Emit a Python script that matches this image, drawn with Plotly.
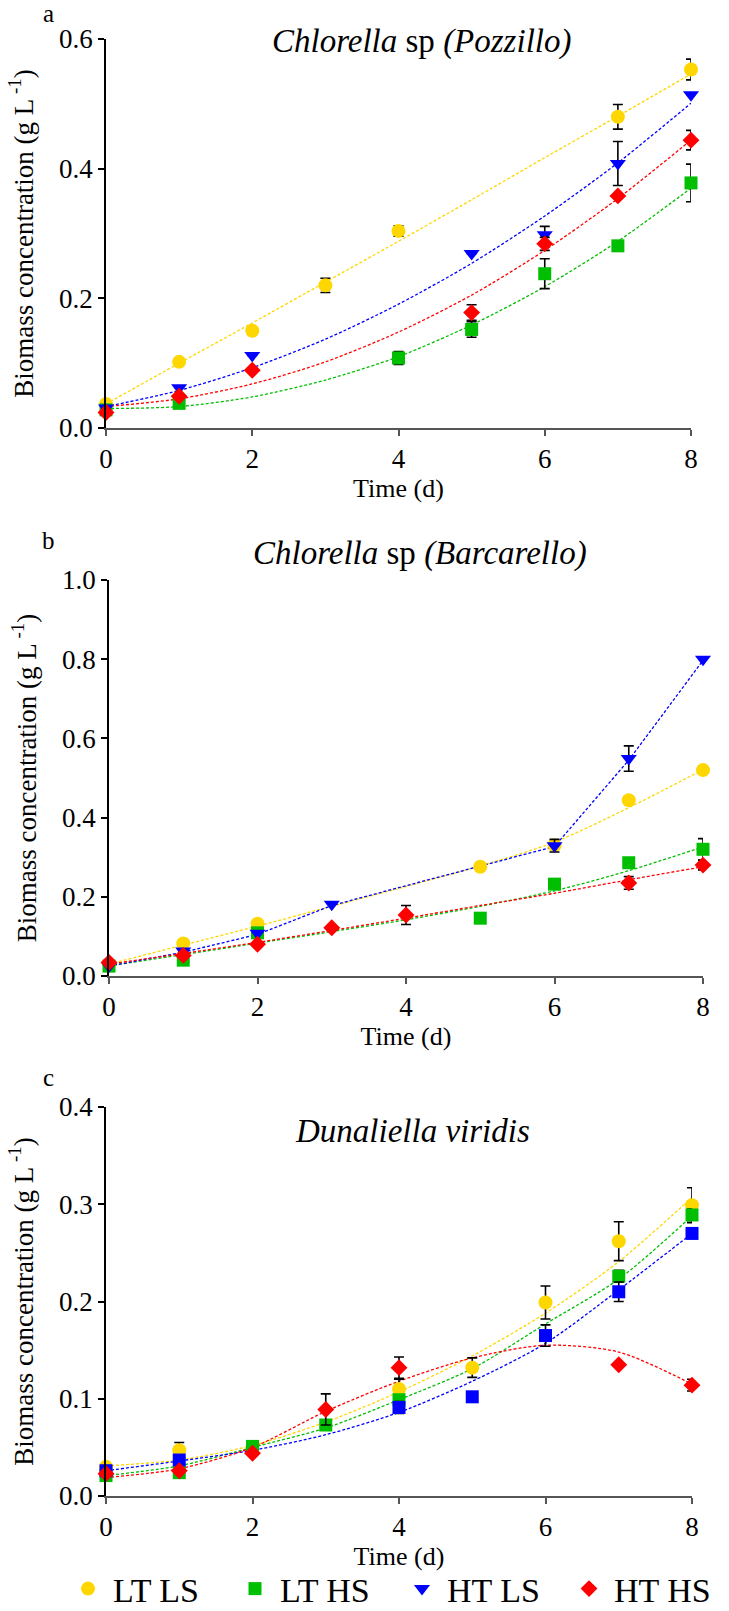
import plotly.graph_objects as go

# ---------------- data ----------------
days = [0, 1, 2, 3, 4, 5, 6, 7, 8]
series_names = ["LT LS", "LT HS", "HT LS", "HT HS"]

# Panel a: Chlorella sp (Pozzillo)
a_ltls = [0.037, 0.102, 0.150, 0.220, 0.304, None, None, 0.480, 0.553]
a_ltls_err = [None, None, None, 0.011, 0.008, None, None, 0.019, 0.016]
a_lths = [0.028, 0.038, None, None, 0.108, 0.152, 0.238, 0.281, 0.378]
a_lths_err = [None, None, None, None, 0.010, 0.012, 0.023, None, 0.029]
a_htls = [0.031, 0.062, 0.112, None, None, 0.269, 0.298, 0.408, 0.514]
a_htls_err = [None, None, None, None, None, None, 0.013, 0.034, None]
a_hths = [0.024, 0.049, 0.089, None, None, 0.178, 0.284, 0.358, 0.444]
a_hths_err = [None, None, None, None, None, 0.012, 0.010, None, 0.015]
a_fit_ltls = [0.037, 0.100, 0.162, 0.225, 0.288, 0.352, 0.417, 0.481, 0.546]
a_fit_lths = [0.030, 0.033, 0.048, 0.074, 0.110, 0.159, 0.218, 0.288, 0.370]
a_fit_htls = [0.033, 0.058, 0.093, 0.137, 0.191, 0.254, 0.327, 0.409, 0.501]
a_fit_hths = [0.033, 0.045, 0.068, 0.102, 0.148, 0.205, 0.274, 0.354, 0.444]

# Panel b: Chlorella sp (Barcarello)
b_ltls = [0.030, 0.082, 0.132, None, None, 0.276, 0.330, 0.444, 0.520]
b_ltls_err = [None] * 9
b_lths = [0.025, 0.040, 0.109, None, None, 0.146, 0.232, 0.286, 0.320]
b_lths_err = [None, None, None, None, None, None, None, None, 0.027]
b_htls = [0.025, 0.063, 0.108, 0.181, None, None, 0.329, 0.549, 0.800]
b_htls_err = [None, None, None, None, None, None, 0.016, 0.032, None]
b_hths = [0.034, 0.052, 0.080, 0.122, 0.154, None, None, 0.235, 0.280]
b_hths_err = [None, None, None, None, 0.024, None, None, 0.016, 0.012]
b_fit_ltls = [0.030, 0.078, 0.126, 0.176, 0.226, 0.278, 0.338, 0.425, 0.521]
b_fit_lths = [0.026, 0.054, 0.083, 0.112, 0.142, 0.176, 0.215, 0.266, 0.326]
b_fit_htls = [0.025, 0.060, 0.105, 0.178, 0.228, 0.277, 0.327, 0.545, 0.797]
b_fit_hths = [0.030, 0.057, 0.085, 0.115, 0.146, 0.178, 0.209, 0.243, 0.276]

# Panel c: Dunaliella viridis
c_ltls = [0.030, 0.047, None, None, 0.110, 0.132, 0.199, 0.262, 0.299]
c_ltls_err = [None, 0.008, None, None, 0.010, 0.010, 0.017, 0.020, 0.018]
c_lths = [0.021, 0.024, 0.051, 0.073, 0.099, None, None, 0.226, 0.289]
c_lths_err = [None, 0.005, None, 0.003, 0.004, None, None, 0.006, 0.006]
c_htls = [0.026, 0.037, None, None, 0.091, 0.102, 0.165, 0.210, 0.270]
c_htls_err = [None, None, None, None, 0.006, None, 0.011, 0.010, None]
c_hths = [0.023, 0.026, 0.044, 0.089, 0.132, None, None, 0.135, 0.114]
c_hths_err = [None, None, None, 0.016, 0.011, None, None, None, 0.006]
c_fit_ltls = [0.031, 0.037, 0.052, 0.076, 0.107, 0.144, 0.188, 0.241, 0.307]
c_fit_lths = [0.021, 0.031, 0.050, 0.070, 0.099, 0.131, 0.177, 0.223, 0.288]
c_fit_htls = [0.026, 0.036, 0.047, 0.063, 0.086, 0.118, 0.157, 0.212, 0.270]
c_fit_hths = [0.019, 0.028, 0.050, 0.087, 0.118, 0.142, 0.155, 0.148, 0.115]

x_ticks = [0, 2, 4, 6, 8]

# ---------------- style ----------------
FONT = "Liberation Serif"
colors = ["#FFD700", "#00BE00", "#0000FF", "#FF0000"]
symbols_default = ["circle", "square", "triangle-down", "diamond"]
W, H = 729, 1611


def px_x(p):
    return p / W


def px_y(p):
    return 1 - p / H


panels = [
    dict(key="a", xa="x", ya="y", xd=[106, 691], yd=[428, 39], yr=[0, 0.6], dt=0.2,
         title="<i>Chlorella</i> sp <i>(Pozzillo)</i>", title_y=42, title_x=422, lab_y=14,
         data=[(a_ltls, a_ltls_err, a_fit_ltls), (a_lths, a_lths_err, a_fit_lths),
               (a_htls, a_htls_err, a_fit_htls), (a_hths, a_hths_err, a_fit_hths)],
         symbols=symbols_default, shapes=["spline"] * 4),
    dict(key="b", xa="x2", ya="y2", xd=[109, 703], yd=[976, 580], yr=[0, 1.0], dt=0.2,
         title="<i>Chlorella</i> sp <i>(Barcarello)</i>", title_y=553, title_x=420, lab_y=540,
         data=[(b_ltls, b_ltls_err, b_fit_ltls), (b_lths, b_lths_err, b_fit_lths),
               (b_htls, b_htls_err, b_fit_htls), (b_hths, b_hths_err, b_fit_hths)],
         symbols=symbols_default, shapes=["spline", "spline", "linear", "spline"]),
    dict(key="c", xa="x3", ya="y3", xd=[106, 692], yd=[1496, 1107], yr=[0, 0.4], dt=0.1,
         title="<i>Dunaliella viridis</i>", title_y=1131, title_x=412, lab_y=1077,
         data=[(c_ltls, c_ltls_err, c_fit_ltls), (c_lths, c_lths_err, c_fit_lths),
               (c_htls, c_htls_err, c_fit_htls), (c_hths, c_hths_err, c_fit_hths)],
         symbols=["circle", "square", "square", "diamond"], shapes=["spline"] * 4),
]

fig = go.Figure()
annotations = []
layout_axes = {}
marker_size = {"circle": 14, "square": 13, "triangle-down": 14, "diamond": 13}

for pi, p in enumerate(panels):
    for si, (vals, errs, fit) in enumerate(p["data"]):
        fig.add_trace(go.Scatter(
            x=days, y=fit, xaxis=p["xa"], yaxis=p["ya"], mode="lines",
            line=dict(color=colors[si], width=1.3, dash="3px,2px", shape=p["shapes"][si],
                      smoothing=0.8),
            showlegend=False, hoverinfo="skip", cliponaxis=False))
    for si, (vals, errs, fit) in enumerate(p["data"]):
        sym = p["symbols"][si]
        fig.add_trace(go.Scatter(
            x=days, y=vals, xaxis=p["xa"], yaxis=p["ya"], mode="markers",
            name=series_names[si],
            marker=dict(symbol=sym, color=colors[si], size=marker_size[sym],
                        line=dict(width=0)),
            error_y=dict(type="data", array=errs, visible=True, color="black",
                         thickness=1.6, width=5),
            showlegend=(pi == 0), cliponaxis=False))

    xname = "xaxis" + ("" if pi == 0 else str(pi + 1))
    yname = "yaxis" + ("" if pi == 0 else str(pi + 1))
    layout_axes[xname] = dict(
        domain=[px_x(p["xd"][0]), px_x(p["xd"][1])], range=[0, 8], anchor=p["ya"],
        tickmode="array", tickvals=x_ticks, ticks="outside", ticklen=6, tickwidth=1.5,
        tickcolor="#555555", showline=True, linecolor="#555555", linewidth=2,
        showgrid=False, zeroline=False, automargin=False,
        tickfont=dict(family=FONT, size=27, color="black"),
        title=dict(text="Time (d)", font=dict(family=FONT, size=26, color="black"), standoff=4))
    nt = int(round(p["yr"][1] / p["dt"]))
    layout_axes[yname] = dict(
        domain=[px_y(p["yd"][0]), px_y(p["yd"][1])], range=p["yr"], anchor=p["xa"],
        tickmode="array", tickvals=[round(i * p["dt"], 1) for i in range(nt + 1)],
        tickformat=".1f", ticks="outside", ticklen=6, tickwidth=1.5, tickcolor="black",
        showline=True, linecolor="black", linewidth=1.5, showgrid=False, zeroline=False,
        automargin=False,
        tickfont=dict(family=FONT, size=27, color="black"),
        title=dict(text="Biomass concentration (g L<sup> -1</sup>)",
                   font=dict(family=FONT, size=27, color="black"), standoff=18))

    annotations.append(dict(text=p["title"], xref="paper", yref="paper",
                            x=px_x(p["title_x"]), y=px_y(p["title_y"]), xanchor="center",
                            yanchor="middle", showarrow=False,
                            font=dict(family=FONT, size=33, color="black")))
    annotations.append(dict(text=p["key"], xref="paper", yref="paper",
                            x=px_x(48), y=px_y(p["lab_y"]), xanchor="center", yanchor="middle",
                            showarrow=False, font=dict(family=FONT, size=25, color="black")))

fig.update_layout(
    width=W, height=H, margin=dict(l=0, r=0, t=0, b=0, autoexpand=False),
    paper_bgcolor="white", plot_bgcolor="white",
    font=dict(family=FONT, color="black"),
    annotations=annotations,
    legend=dict(orientation="h", x=px_x(63), xanchor="left", y=px_y(1589), yanchor="middle",
                font=dict(family=FONT, size=34, color="black"),
                entrywidth=112, entrywidthmode="pixels", itemwidth=40,
                itemsizing="trace", bgcolor="rgba(0,0,0,0)"),
    **layout_axes,
)

fig.write_html("out.html")
